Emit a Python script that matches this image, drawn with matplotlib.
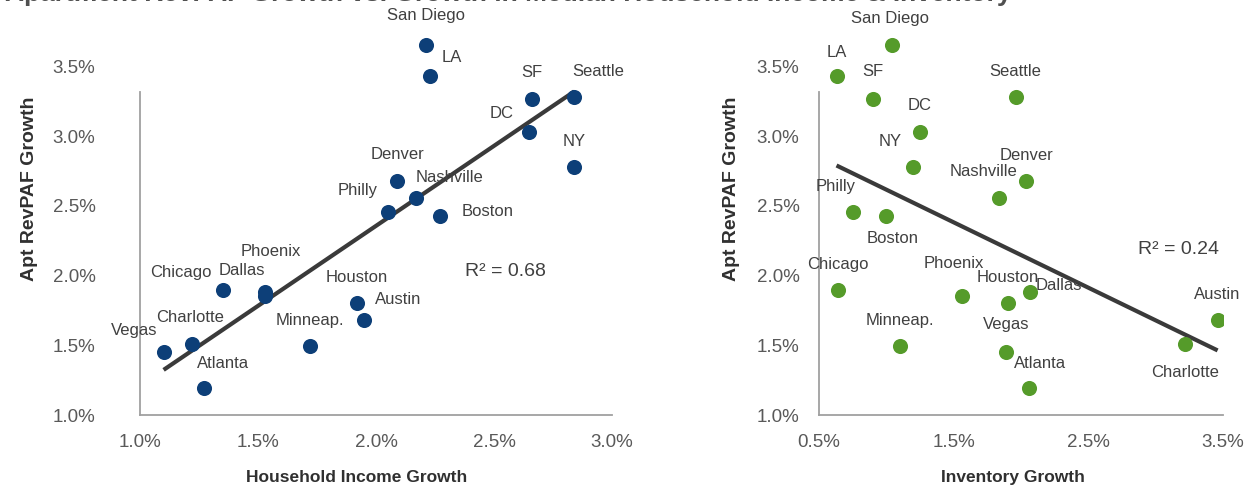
import numpy as np
import matplotlib
matplotlib.use('Agg')
import matplotlib.pyplot as plt
from matplotlib.ticker import FuncFormatter

plt.rcParams['font.family'] = ['Liberation Sans', 'DejaVu Sans']

# metros
cities = ['San Diego', 'LA', 'SF', 'Seattle', 'DC', 'NY', 'Denver', 'Nashville', 'Philly', 'Boston',
          'Chicago', 'Dallas', 'Phoenix', 'Houston', 'Austin', 'Minneap.', 'Charlotte', 'Vegas', 'Atlanta']

# apt RevPAF growth (%)
revpaf_growth = [3.64, 3.42, 3.26, 3.27, 3.02, 2.77, 2.67, 2.55, 2.45, 2.42,
                 1.89, 1.88, 1.85, 1.80, 1.68, 1.49, 1.51, 1.45, 1.19]

# household income growth (%)
income_growth = [2.21, 2.23, 2.66, 2.84, 2.65, 2.84, 2.09, 2.17, 2.05, 2.27,
                 1.35, 1.53, 1.53, 1.92, 1.95, 1.72, 1.22, 1.10, 1.27]

# inventory growth (%)
inventory_growth = [1.04, 0.63, 0.90, 1.96, 1.25, 1.20, 2.04, 1.84, 0.75, 1.00,
                    0.64, 2.07, 1.56, 1.90, 3.46, 1.10, 3.22, 1.89, 2.06]

r2_income = 0.68
r2_inventory = 0.24

# label offsets in pixels (dx, dy) from each point
offsets_income = [(0, 31), (22, 20), (0, 27), (24, 27), (-28, 20), (0, 27), (0, 28), (33, 22), (-30, 23), (48, 6),
                  (-42, 19), (-23, 22), (6, 45), (0, 27), (34, 21), (0, 27), (-2, 27), (-29, 22), (19, 26)]
offsets_inventory = [(-2, 28), (0, 25), (0, 28), (0, 27), (0, 28), (-23, 27), (0, 27), (-16, 28), (-17, 26), (6, -21),
                     (0, 27), (28, 7), (-8, 33), (0, 27), (0, 26), (0, 27), (0, -28), (0, 28), (11, 26)]

W, H = 1250, 489
fig = plt.figure(figsize=(W / 100, H / 100), dpi=100)

# title cut off at the top edge
fig.text(0.004, 1 - 1 / H, 'Apartment RevPAF Growth vs. Growth in Median Household Income & Inventory',
         fontsize=19, fontweight='bold', color='#505050', va='baseline', ha='left')

pct = FuncFormatter(lambda v, p: '%.1f%%' % v)


def scatter_panel(rect, x, xlim, xticks, xlabel, color, offsets, r2, r2_pos, ypad, ylabel_x, xlabel_x):
    ax = fig.add_axes(rect)
    ax.scatter(x, revpaf_growth, s=118, color=color, zorder=3, linewidths=0)

    # linear trendline
    k, b = np.polyfit(x, revpaf_growth, 1)
    xs = np.array([min(x), max(x)])
    ax.plot(xs, k * xs + b, color='#3a3a3a', linewidth=3.0, zorder=2, solid_capstyle='butt')

    for name, xi, yi, (dx, dy) in zip(cities, x, revpaf_growth, offsets):
        ax.annotate(name, (xi, yi), xytext=(dx * 0.72, dy * 0.72), textcoords='offset points',
                    ha='center', va='center', fontsize=12, color='#404040', zorder=4)

    ax.text(r2_pos[0], r2_pos[1], 'R² = %.2f' % r2, transform=ax.transAxes,
            ha='center', va='center', fontsize=14, color='#404040')

    ax.set_xlim(*xlim)
    ax.set_ylim(1.0, 3.95)
    ax.set_xticks(xticks)
    ax.set_yticks([1.0, 1.5, 2.0, 2.5, 3.0, 3.5])
    ax.xaxis.set_major_formatter(pct)
    ax.yaxis.set_major_formatter(pct)
    ax.tick_params(axis='both', length=0, labelsize=13.5, labelcolor='#595959')
    ax.tick_params(axis='x', pad=13)
    ax.tick_params(axis='y', pad=ypad)

    for side in ['top', 'right']:
        ax.spines[side].set_visible(False)
    ax.spines['left'].set_bounds(1.0, 3.31)
    ax.spines['bottom'].set_bounds(xlim[0], xlim[1])
    for side in ['left', 'bottom']:
        ax.spines[side].set_color('#a0a0a0')
        ax.spines[side].set_linewidth(1.3)

    ax.set_xlabel(xlabel, fontsize=12.5, fontweight='bold', color='#303030')
    ax.set_ylabel('Apt RevPAF Growth', fontsize=14, fontweight='bold', color='#303030')
    ax.xaxis.set_label_coords(xlabel_x, -0.13)
    ax.yaxis.set_label_coords(ylabel_x, 0.55)
    ax.patch.set_alpha(0)
    return ax


bottom = (H - 416) / H
height = 2.95 * 140 / H

# household income panel
scatter_panel([140 / W, bottom, 472 / W, height], income_growth, (1.0, 3.0),
              [1.0, 1.5, 2.0, 2.5, 3.0], 'Household Income Growth', '#0d3f78',
              offsets_income, r2_income, ((505 - 140) / 472, (416 - 271) / 413), 32, -0.217, 0.46)

# inventory panel
scatter_panel([819 / W, bottom, 404 / W, height], inventory_growth, (0.5, 3.5),
              [0.5, 1.5, 2.5, 3.5], 'Inventory Growth', '#559b2a',
              offsets_inventory, r2_inventory, ((1178 - 819) / 404, (416 - 250) / 413), 14, -0.195, 0.48)

fig.savefig('out.png', dpi=100)
